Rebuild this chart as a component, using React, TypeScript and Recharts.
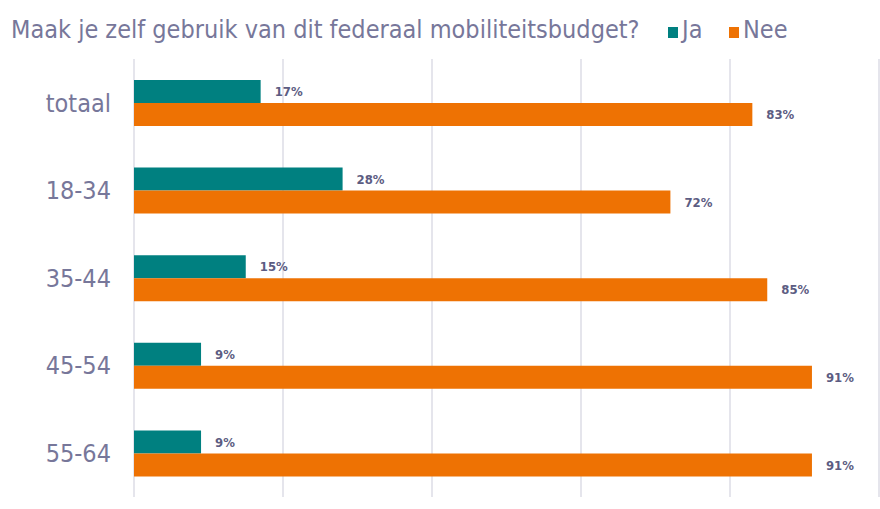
import { Bar, BarChart, CartesianGrid, LabelList, XAxis, YAxis } from "recharts";

const categories = ["totaal", "18-34", "35-44", "45-54", "55-64"];
const jaValues = [17, 28, 15, 9, 9];
const neeValues = [83, 72, 85, 91, 91];
const xTicks = [0, 20, 40, 60, 80, 100];

const data = categories.map((c, i) => ({ cat: c, ja: jaValues[i], nee: neeValues[i] }));

const FONT = "'DejaVu Sans Condensed', 'DejaVu Sans', sans-serif";
const TEXT = "#77779a";
const LABEL = "#5c5c82";

const Header = () => (
  <div style={{ position: "absolute", left: 0, top: 0, width: 880, height: 55, fontFamily: FONT, color: TEXT, zIndex: 2 }}>
    <span style={{ position: "absolute", left: 11, top: 15, fontSize: 25, whiteSpace: "nowrap" }}>
      Maak je zelf gebruik van dit federaal mobiliteitsbudget?
    </span>
    <span style={{ position: "absolute", left: 668, top: 27, width: 10, height: 11, background: "#008080" }} />
    <span style={{ position: "absolute", left: 682, top: 15, fontSize: 25 }}>Ja</span>
    <span style={{ position: "absolute", left: 729, top: 27, width: 10, height: 11, background: "#EE7203" }} />
    <span style={{ position: "absolute", left: 743, top: 15, fontSize: 25 }}>Nee</span>
  </div>
);

export default function App() {
  return (
    <div style={{ position: "absolute", left: 0, top: 0, width: 880, height: 509, background: "#fff" }}>
      <Header />
      <BarChart
        width={880}
        height={509}
        data={data}
        layout="vertical"
        margin={{ top: 59, right: 1, bottom: 12, left: 0 }}
        barGap={0}
        barSize={23}
      >
        <CartesianGrid horizontal={false} stroke="#dcdce6" strokeWidth={1.5} />
        <XAxis type="number" domain={[0, 100]} ticks={xTicks} hide />
        <YAxis
          type="category"
          dataKey="cat"
          width={134}
          axisLine={false}
          tickLine={false}
          tickMargin={17}
          tick={{ fill: TEXT, fontSize: 25, fontFamily: FONT }}
        />
        <Bar dataKey="ja" name="Ja" fill="#008080" isAnimationActive={false}>
          <LabelList
            dataKey="ja"
            position="right"
            offset={14}
            formatter={(v: any) => `${v}%`}
            style={{ fill: LABEL, fontSize: 13, fontWeight: "bold", fontFamily: FONT }}
          />
        </Bar>
        <Bar dataKey="nee" name="Nee" fill="#EE7203" isAnimationActive={false}>
          <LabelList
            dataKey="nee"
            position="right"
            offset={14}
            formatter={(v: any) => `${v}%`}
            style={{ fill: LABEL, fontSize: 13, fontWeight: "bold", fontFamily: FONT }}
          />
        </Bar>
      </BarChart>
    </div>
  );
}
